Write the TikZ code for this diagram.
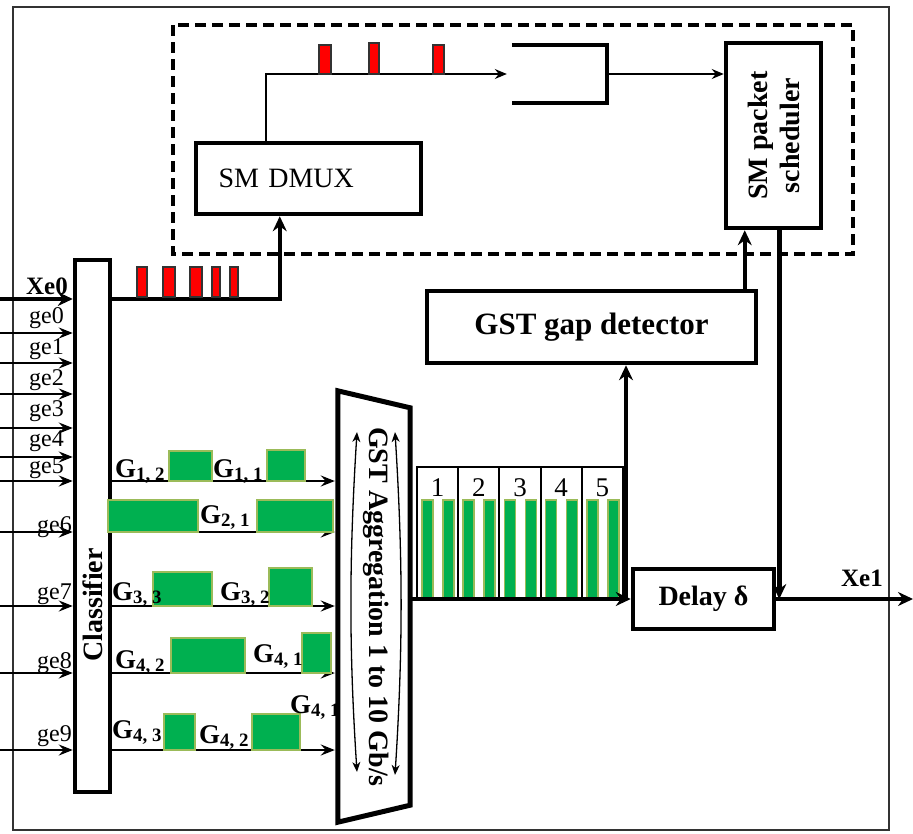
\documentclass[tikz,border=0pt]{standalone}
\usepackage{fontspec}
\setmainfont{Liberation Serif}
\usetikzlibrary{arrows.meta,positioning,calc}
\definecolor{PktRed}{RGB}{255,0,0}
\definecolor{PktGreen}{RGB}{0,176,80}
\definecolor{PktEdge}{RGB}{155,187,89}
\newcommand{\lblsize}{\fontsize{28}{32}\selectfont}
\newcommand{\detsize}{\fontsize{31}{33}\selectfont}
\newcommand{\gsize}{\fontsize{27}{29}\selectfont}
\newcommand{\gesize}{\fontsize{24}{26}\selectfont}
\newcommand{\xesize}{\fontsize{25}{27}\selectfont}

\begin{document}
\begin{tikzpicture}[x=1pt, y=-1pt,
    blk/.style={draw, line width=4.5pt, inner sep=0pt},
    thinarr/.style={line width=1.5pt, -{Stealth[length=12pt, width=10pt, inset=4pt]}},
    inarr/.style={line width=2.5pt, -{Stealth[length=14pt, width=11pt, inset=5pt]}},
    fatarr/.style={line width=4.5pt, -{Stealth[length=15pt, width=14pt, inset=5pt]}},
    dblarr/.style={line width=1.3pt, {Stealth[length=10pt, width=8pt, inset=3pt]}-{Stealth[length=10pt, width=8pt, inset=3pt]}},
    redpkt/.style={fill=PktRed, draw=black!80, line width=1.2pt},
    grnpkt/.style={fill=PktGreen, draw=PktEdge, line width=1.5pt},
    boldtxt/.style={font=\lblsize\bfseries},
    glbl/.style={font=\gsize\bfseries, anchor=base west, inner sep=0pt},
    gelbl/.style={font=\gesize, anchor=base east, inner sep=0pt}]
  \useasboundingbox (0,0) rectangle (913,833);

  % frame and SM part
  \draw[line width=1.5pt, black!80] (13,7) rectangle (889,830);
  \draw[line width=3.5pt, dash pattern=on 11pt off 6pt] (173,25) rectangle (853,254);

  \node[blk, minimum width=225pt, minimum height=71pt, text width=180pt, align=left, font=\lblsize] (dmux) at (308.5,178.5) {SM DMUX};
  \node[blk, minimum width=95pt, minimum height=185pt] (sched) at (773.5,135.5) {};
  \node[boldtxt, rotate=90, align=center] (schedtxt) at (sched.center) {SM packet\\scheduler};

  \node[minimum width=95pt, minimum height=58pt, inner sep=0pt] (buf) at (559.5,74) {};
  \draw[line width=4.5pt] (buf.north west) -- (buf.north east) -- (buf.south east) -- (buf.south west);

  \draw[thinarr] ([xshift=72pt]dmux.north west) |- ([xshift=-5pt]buf.west);
  \foreach \a/\b/\t in {319/331/45, 369/379/43, 433/444/45}
    \draw[redpkt] (\a,\t) rectangle (\b,74);
  \draw[thinarr] (buf.east) -- (buf.east -| sched.west);

  % classifier and inputs
  \node[blk, minimum width=35pt, minimum height=532pt] (cls) at (92.5,526) {};
  \node[boldtxt, rotate=90] (clstxt) at (92.5,605) {Classifier};

  \coordinate (xe0) at (0,299);
  \draw[fatarr] (xe0) -- (xe0 -| cls.west);
  \node[font=\xesize\bfseries, inner sep=0pt] (lxe0) at (47,286) {Xe0};
  \coordinate (dmuxin) at ([xshift=86pt]dmux.south west);
  \draw[fatarr] (xe0 -| cls.east) -| (dmuxin);
  \foreach \a/\b in {137/147, 163/175, 190/202, 212/220, 230/238}
    \draw[redpkt] (\a,267) rectangle (\b,297);

  \foreach \i/\y/\bl/\lx in {0/333/323/64, 1/363/354/64, 2/394/385/64, 3/428/416/64, 4/457/446/64, 5/481/473/64,
                             6/532/532/72, 7/606/599/72, 8/673/668/72, 9/750/741/72} {
    \coordinate (ge\i) at (0,\y);
    \draw[inarr] (ge\i) -- (ge\i -| cls.west);
    \node[gelbl] (lge\i) at (\lx,\bl) {ge\i};
  }

  % GST aggregation
  \node[minimum width=72pt, minimum height=431pt, inner sep=0pt] (agg) at (374,606.5) {};
  \draw[line width=5pt] (agg.north west) -- ([yshift=-17pt]agg.north east) -- ([yshift=17pt]agg.south east) -- (agg.south west) -- cycle;
  \node[boldtxt, rotate=-90] (aggtxt) at (376,607) {GST Aggregation 1 to 10 Gb/s};
  \draw[dblarr] (357,432) .. controls (349,560) and (349,650) .. (357,772);
  \draw[dblarr] (395,432) .. controls (403,560) and (403,650) .. (395,775);

  \foreach \i in {5,...,9}
    \draw[inarr, shorten >=3pt] (ge\i -| cls.east) -- (ge\i -| agg.west);

  \foreach \a/\t/\b/\s in {169/451/212/481, 267/450/305/481, 108/500/198/532, 257/500/333/532,
                           153/572/212/606, 269/568/312/606, 171/638/245/673, 302/633/331/673,
                           164/714/195/750, 252/714/300/750}
    \draw[grnpkt] (\a,\t) rectangle (\b,\s);

  \node[glbl] (g12) at (115,477) {G\textsubscript{1, 2}};
  \node[glbl] (g11) at (213,477) {G\textsubscript{1, 1}};
  \node[glbl] (g21) at (200,523) {G\textsubscript{2, 1}};
  \node[glbl] (g33) at (112,600) {G\textsubscript{3, 3}};
  \node[glbl] (g32) at (220,600) {G\textsubscript{3, 2}};
  \node[glbl] (g42a) at (115,668) {G\textsubscript{4, 2}};
  \node[glbl] (g41a) at (253,662) {G\textsubscript{4, 1}};
  \node[glbl] (g43) at (112,738) {G\textsubscript{4, 3}};
  \node[glbl] (g42b) at (199,743) {G\textsubscript{4, 2}};
  \node[glbl] (g41b) at (290,713) {G\textsubscript{4, 1}};

  % time slots
  \node[draw, line width=2pt, minimum width=206pt, minimum height=131pt, inner sep=0pt] (slots) at (520,532.5) {};
  \foreach \i in {1,...,5} {
    \pgfmathsetmacro\xl{417+(\i-1)*41.2}
    \node[font=\gsize, inner sep=0pt] (n\i) at (\xl+20.6,488) {\i};
    \draw[grnpkt] (\xl+5,500) rectangle (\xl+16,598);
    \draw[grnpkt] (\xl+26,500) rectangle (\xl+37,598);
  }
  \foreach \i in {2,...,5}
    \draw[line width=2pt] ({417+(\i-1)*41.2},467) -- ++(0,131);

  % detector, delay, output
  \node[blk, minimum width=329pt, minimum height=72pt, font=\detsize\bfseries] (det) at (591.5,327) {GST gap detector};
  \node[blk, minimum width=141pt, minimum height=60pt, boldtxt] (dly) at (703.5,599) {Delay δ};

  \draw[fatarr] (agg.east |- dly.west) -- (dly.west);
  \coordinate (tap) at (626,599);
  \draw[fatarr] (tap) -- (tap |- det.south);

  \coordinate (schedin) at ([xshift=21pt]sched.south west);
  \draw[fatarr] (schedin |- det.north) -- (schedin);
  \coordinate (schedout) at ([xshift=-44pt]sched.south east);
  \draw[fatarr] (schedout) -- (schedout |- dly.east);

  \coordinate (xe1) at (913,599);
  \draw[fatarr] (dly.east) -- (xe1);
  \node[font=\xesize\bfseries, inner sep=0pt] (lxe1) at (862,578) {Xe1};
\end{tikzpicture}
\end{document}
